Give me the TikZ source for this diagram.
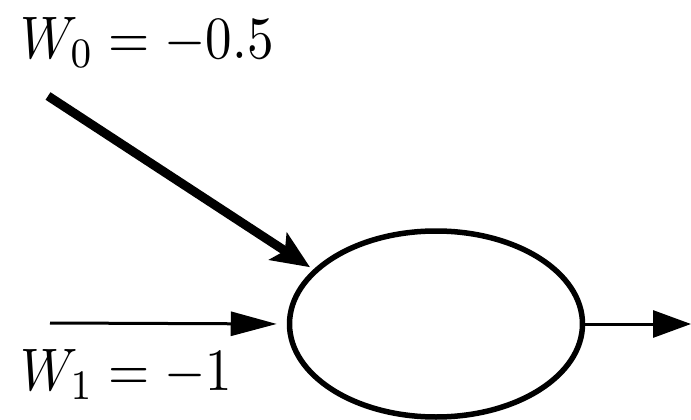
\documentclass[tikz,border=0pt]{standalone}
\usepackage{graphicx}
\usetikzlibrary{arrows.meta,shapes.geometric}
\begin{document}
\begin{tikzpicture}[x=1pt,y=-1pt,
  lbl/.style={inner sep=0pt,anchor=base west},
  conn/.style={line width=3pt,-{Triangle[length=46pt,width=24pt]}}]
\useasboundingbox (0,0) rectangle (691,420);
\node[draw,ellipse,line width=5.5pt,minimum width=293pt,minimum height=186pt,inner sep=0pt] (n) at (436,324) {};
\node[lbl] (l0) at (20,59) {\scalebox{5.3}[6.0]{$W_0 = -0.5$}};
\node[lbl] (l1) at (20,390) {\scalebox{5.3}[6.0]{$W_1 = -1$}};
\coordinate (s0) at (48,96);
\coordinate (s1) at (50,323);
\coordinate (e) at (691,324);
\draw[line width=9pt,-{Stealth[length=38pt,width=32pt,inset=8pt]},shorten >=4pt] (s0) -- (n.156);
\draw[conn,shorten >=10pt] (s1) -- (n.west);
\draw[conn,-{Triangle[length=38pt,width=27pt]}] (n.east) -- (e);
\end{tikzpicture}
\end{document}
